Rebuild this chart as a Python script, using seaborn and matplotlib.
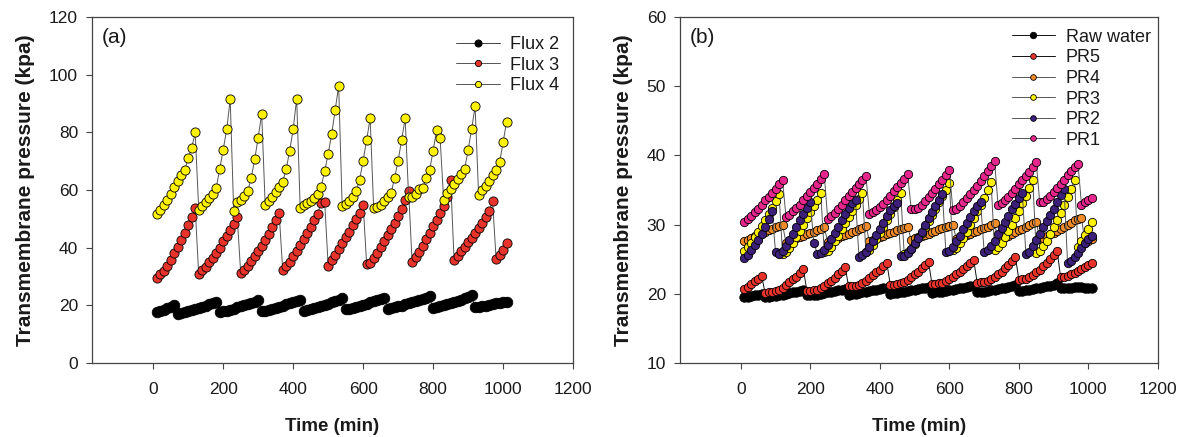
import matplotlib
matplotlib.use('Agg')
import matplotlib.pyplot as plt
import seaborn as sns
import pandas as pd

sns.set_style('ticks')
plt.rcParams['font.family'] = ['Liberation Sans', 'DejaVu Sans']

# sampling times (min), shared by every series
time_min = [10, 20, 30, 40, 50, 60, 70, 80, 90, 100, 110, 120, 130, 140, 150, 160, 170, 180, 190, 200,
            210, 220, 230, 240, 250, 260, 270, 280, 290, 300, 310, 320, 330, 340, 350, 360, 370, 380, 390, 400,
            410, 420, 430, 440, 450, 460, 470, 480, 490, 500, 510, 520, 530, 540, 550, 560, 570, 580, 590, 600,
            610, 620, 630, 640, 650, 660, 670, 680, 690, 700, 710, 720, 730, 740, 750, 760, 770, 780, 790, 800,
            810, 820, 830, 840, 850, 860, 870, 880, 890, 900, 910, 920, 930, 940, 950, 960, 970, 980, 990, 1000,
            1010]

# panel (a): TMP at three fluxes (kpa)
flux2 = [17.7, 18.0, 18.5, 19.0, 19.5, 20.0,
         17.1, 17.3, 17.6, 17.9, 18.3, 18.7, 19.1, 19.5, 19.9, 20.3, 20.7, 21.1,
         17.7, 17.9, 18.2, 18.5, 18.9, 19.3, 19.7, 20.1, 20.5, 20.9, 21.3, 21.7,
         18.0, 18.2, 18.5, 18.8, 19.1, 19.5, 19.9, 20.3, 20.7, 21.1, 21.5, 21.9,
         18.2, 18.4, 18.7, 19.0, 19.4, 19.8, 20.2, 20.6, 21.0, 21.4, 21.9, 22.4,
         18.6, 18.8, 19.1, 19.4, 19.8, 20.2, 20.6, 21.0, 21.4, 21.8, 22.3, 22.7,
         18.8, 19.0, 19.3, 19.6, 19.9, 20.3, 20.7, 21.1, 21.5, 21.9, 22.3, 22.7, 23.1,
         19.2, 19.4, 19.7, 20.0, 20.4, 20.8, 21.2, 21.6, 22.0, 22.5, 23.0, 23.5,
         19.4, 19.5, 19.7, 19.9, 20.2, 20.4, 20.7, 20.9, 21.1, 21.3]
flux3 = [29.5, 30.7, 31.8, 33.6, 35.8, 38.1, 40.2, 42.7, 45.1, 47.7, 50.5, 53.8,
         30.7, 32.1, 33.2, 35.0, 36.5, 38.1, 39.9, 42.2, 44.2, 46.2, 48.2, 50.8,
         31.2, 32.3, 33.7, 35.3, 37.0, 38.8, 40.7, 42.6, 44.8, 47.0, 49.5, 51.9,
         32.3, 33.6, 35.2, 37.0, 38.9, 40.9, 42.9, 45.0, 47.2, 49.5, 51.8, 55.5, 56.0,
         33.8, 35.6, 37.6, 39.6, 41.6, 43.6, 45.6, 47.7, 49.8, 52.0, 54.9,
         34.4, 34.6, 36.5, 38.3, 40.2, 42.2, 44.3, 46.4, 48.6, 50.9, 53.3, 56.5, 59.5,
         35.0, 36.6, 38.6, 40.7, 42.9, 45.1, 47.4, 49.7, 52.0, 54.3, 57.5, 63.5,
         35.8, 37.2, 38.7, 40.2, 41.8, 43.4, 45.1, 46.8, 48.6, 50.5, 52.6, 56.1,
         36.1, 37.3, 39.2, 41.5]
flux4 = [51.7, 53.1, 54.9, 56.7, 58.6, 60.9, 63.2, 65.2, 66.9, 71.1, 74.5, 80.0,
         53.2, 54.3, 55.7, 57.2, 58.6, 60.7, 67.2, 74.0, 81.0, 91.4,
         52.8, 55.7, 56.7, 57.8, 59.5, 64.2, 70.6, 78.2, 86.5,
         54.9, 56.3, 57.7, 59.2, 60.9, 62.9, 67.2, 73.6, 81.1, 91.7,
         53.8, 54.9, 55.4, 56.3, 57.2, 58.6, 61.2, 66.5, 72.5, 79.4, 87.7, 96.1,
         54.6, 55.2, 56.3, 57.7, 59.5, 63.6, 70.2, 77.3, 84.9,
         53.8, 54.0, 54.9, 56.3, 57.7, 59.0, 64.2, 70.2, 77.3, 84.9,
         57.7, 57.5, 58.6, 60.3, 60.6, 64.2, 66.9, 73.6, 80.8, 78.0,
         56.7, 58.8, 60.3, 62.1, 63.8, 65.5, 67.3, 73.8, 81.1, 89.0,
         58.4, 60.0, 61.5, 63.2, 65.3, 66.9, 69.6, 76.5, 83.7]

# panel (b): TMP for raw water and pretreatments (kpa)
raw_water = [19.5, 19.6, 19.7, 19.8, 19.9, 20.0,
             19.6, 19.6, 19.7, 19.7, 19.8, 19.9, 20.0, 20.1, 20.2, 20.3, 20.4, 20.5,
             19.8, 19.8, 19.9, 19.9, 20.0, 20.1, 20.2, 20.3, 20.4, 20.5, 20.6, 20.7,
             19.9, 20.0, 20.0, 20.1, 20.2, 20.3, 20.4, 20.5, 20.6, 20.7, 20.8, 20.9,
             20.0, 20.1, 20.1, 20.2, 20.3, 20.4, 20.5, 20.6, 20.7, 20.8, 20.9, 21.0,
             20.1, 20.2, 20.2, 20.3, 20.4, 20.5, 20.6, 20.7, 20.8, 20.9, 21.0, 21.1, 21.2,
             20.2, 20.3, 20.3, 20.4, 20.5, 20.6, 20.7, 20.8, 20.9, 21.0, 21.1, 21.3,
             20.4, 20.4, 20.5, 20.6, 20.7, 20.8, 20.9, 21.0, 21.1, 21.2, 21.3, 21.5,
             20.8, 20.8, 20.9, 20.9, 21.0, 21.0, 21.0, 20.9, 20.9, 20.9]
pr5 = [20.7, 21.0, 21.4, 21.8, 22.2, 22.6,
       20.1, 20.2, 20.3, 20.4, 20.6, 20.9, 21.3, 21.7, 22.1, 22.5, 23.0, 23.6,
       20.4, 20.4, 20.5, 20.6, 20.8, 21.2, 21.5, 21.9, 22.3, 22.8, 23.3, 23.9,
       21.1, 21.1, 21.2, 21.3, 21.6, 21.9, 22.3, 22.7, 23.1, 23.5, 24.0, 24.5,
       21.3, 21.3, 21.4, 21.5, 21.7, 22.0, 22.4, 22.8, 23.2, 23.7, 24.1, 24.6,
       21.4, 21.4, 21.5, 21.6, 21.8, 22.1, 22.4, 22.8, 23.2, 23.6, 24.0, 24.4, 24.9,
       21.6, 21.7, 21.7, 21.9, 22.1, 22.4, 22.8, 23.2, 23.7, 24.2, 24.7, 25.3,
       22.0, 22.1, 22.2, 22.4, 22.7, 23.1, 23.5, 24.0, 24.5, 25.0, 25.6, 26.2,
       22.4, 22.5, 22.6, 22.8, 23.0, 23.3, 23.6, 23.9, 24.2, 24.5]
pr4 = [27.6, 27.8, 28.0, 28.3, 28.5, 28.8, 29.0, 29.2, 29.4, 29.6, 29.8, 30.0,
       27.4, 27.6, 27.8, 28.0, 28.2, 28.4, 28.6, 28.8, 29.0, 29.2, 29.4, 29.6,
       27.5, 27.7, 27.9, 28.1, 28.3, 28.5, 28.7, 28.9, 29.1, 29.3, 29.5, 29.8,
       27.6, 27.8, 28.0, 28.2, 28.4, 28.6, 28.8, 29.0, 29.2, 29.4, 29.5, 29.7,
       27.8, 28.0, 28.2, 28.4, 28.5, 28.7, 28.9, 29.1, 29.3, 29.5, 29.6, 29.8, 30.0,
       27.9, 28.1, 28.3, 28.5, 28.7, 28.9, 29.1, 29.3, 29.5, 29.7, 30.0, 30.2,
       27.8, 28.0, 28.2, 28.4, 28.7, 28.9, 29.2, 29.4, 29.7, 29.9, 30.2, 30.4,
       27.9, 28.1, 28.3, 28.6, 28.8, 29.1, 29.4, 29.7, 30.0, 30.3, 30.6, 30.8, 31.0,
       27.4, 27.6, 27.9]
pr3 = [26.2, 26.7, 27.4, 28.2, 29.0, 29.8, 30.6, 31.5, 32.4, 33.4, 34.4,
       25.8, 26.0, 26.6, 27.4, 28.2, 29.1, 30.0, 30.9, 31.8, 32.7, 33.6, 34.5,
       26.0, 26.2, 26.8, 27.6, 28.4, 29.3, 30.2, 31.1, 32.0, 32.9, 33.7, 34.5,
       26.0, 26.4, 27.1, 27.9, 28.8, 29.7, 30.6, 31.5, 32.5, 33.5, 34.5,
       25.8, 26.0, 26.5, 27.2, 28.0, 28.8, 29.6, 30.5, 31.4, 32.3, 33.2, 34.1, 35.0, 36.0,
       26.3, 26.6, 27.3, 28.1, 29.0, 29.9, 30.9, 31.9, 32.9, 33.9, 35.0, 36.2,
       26.4, 26.7, 27.4, 28.2, 29.1, 30.0, 31.0, 32.0, 33.1, 34.2, 35.3, 36.4,
       25.9, 26.2, 26.9, 27.7, 28.6, 29.6, 30.6, 31.7, 32.8, 34.0, 35.2, 36.4,
       26.8, 27.6, 28.5, 29.4, 30.4]
pr2 = [25.2, 25.6, 26.3, 27.0, 27.8, 28.7, 29.7, 30.8, 31.9,
       26.0, 25.8, 26.2, 26.9, 27.8, 28.7, 29.6, 30.6, 31.5, 32.4, 33.3,
       27.4,
       25.8, 25.9, 26.4, 27.1, 27.9, 28.8, 29.7, 30.6, 31.5, 32.4, 33.1, 33.6,
       25.3, 25.6, 26.1, 26.8, 27.6, 28.5, 29.4, 30.3, 31.2, 32.1, 32.7, 33.1,
       25.4, 25.5, 25.9, 26.5, 27.3, 28.1, 29.0, 29.9, 30.9, 31.8, 32.7, 33.6, 34.4,
       26.0, 26.2, 26.8, 27.6, 28.4, 29.3, 30.2, 31.1, 32.0, 32.7, 33.2,
       26.1, 26.3, 26.9, 27.7, 28.6, 29.5, 30.4, 31.3, 32.2, 33.0, 33.8, 34.5,
       25.8, 26.1, 26.9, 27.8, 28.7, 29.6, 30.5, 31.4, 32.3, 33.3, 34.3, 35.2,
       24.4, 24.8, 25.3, 25.9, 26.6, 27.3, 27.9, 28.4]
pr1 = [30.4, 30.8, 31.3, 31.8, 32.3, 32.9, 33.5, 34.0, 34.6, 35.2, 35.9, 36.5,
       31.1, 31.4, 31.9, 32.4, 32.9, 33.5, 34.1, 34.7, 35.3, 35.9, 36.6, 37.3,
       30.8, 31.2, 31.7, 32.3, 32.9, 33.5, 34.1, 34.7, 35.3, 35.9, 36.5, 37.0,
       31.6, 31.8, 32.1, 32.5, 33.0, 33.6, 34.2, 34.8, 35.4, 36.0, 36.6, 37.3,
       32.3, 32.2, 32.4, 32.9, 33.4, 34.0, 34.6, 35.2, 35.9, 36.5, 37.2, 37.9,
       32.1, 32.3, 32.7, 33.2, 33.8, 34.4, 35.0, 35.6, 36.3, 37.0, 37.7, 38.4, 39.2,
       32.9, 33.1, 33.5, 34.0, 34.6, 35.2, 35.8, 36.4, 37.0, 37.6, 38.3, 39.0,
       33.2, 33.3, 33.7, 34.2, 34.7, 35.3, 35.9, 36.5, 37.1, 37.7, 38.3, 38.8,
       32.9, 33.2, 33.5, 33.9]

# (label, values, marker face, line colour, marker size)
series_a = [('Flux 2', flux2, 'black', '#444444', 7.6),
            ('Flux 3', flux3, '#e8332a', '#555555', 6.6),
            ('Flux 4', flux4, '#fff200', '#555555', 6.6)]
series_b = [('Raw water', raw_water, 'black', '#111111', 6.8),
            ('PR5', pr5, '#e8332a', '#111111', 6.0),
            ('PR4', pr4, '#f28c28', '#555555', 6.0),
            ('PR3', pr3, '#fff200', '#555555', 6.0),
            ('PR2', pr2, '#3b1f78', '#555555', 6.0),
            ('PR1', pr1, '#e6268c', '#555555', 6.0)]


def draw_panel(ax, series):
	'''Plot each series as a thin line with black-edged circles.'''
	for name, vals, face, line, msize in series:
		df = pd.DataFrame({'t': time_min, 'p': vals})
		sns.lineplot(data=df, x='t', y='p', ax=ax, label=name, sort=False,
					 color=line, linewidth=0.7, marker='o', markersize=msize,
					 markerfacecolor=face, markeredgecolor='black',
					 markeredgewidth=0.6)


def style_axes(ax, ylim, yticks, tag, leg_anchor):
	ax.set_xlim(-175, 1200)
	ax.set_xticks([0, 200, 400, 600, 800, 1000, 1200])
	ax.set_ylim(*ylim)
	ax.set_yticks(yticks)
	ax.tick_params(axis='both', direction='out', length=4, width=0.8,
				   color='#444444', labelsize=12.5, labelcolor='#1a1a1a')
	ax.tick_params(axis='x', pad=10)
	ax.tick_params(axis='y', pad=6)
	for sp in ax.spines.values():
		sp.set_color('#444444')
		sp.set_linewidth(0.9)
	ax.set_xlabel('Time (min)', fontsize=13.5, fontweight='bold', labelpad=15,
				  color='#1a1a1a')
	ax.set_ylabel('Transmembrane pressure (kpa)', fontsize=15, fontweight='bold',
				  labelpad=10, color='#1a1a1a')
	ax.text(0.02, 0.968, tag, transform=ax.transAxes, ha='left', va='top',
			fontsize=15, color='#1a1a1a')
	leg = ax.legend(loc='upper right', bbox_to_anchor=leg_anchor, frameon=False,
					fontsize=13, markerscale=0.68, handlelength=2.4,
					handletextpad=0.6, labelspacing=0.2, borderpad=0,
					borderaxespad=0)
	for txt in leg.get_texts():
		txt.set_color('#1a1a1a')


fig = plt.figure(figsize=(11.84, 4.37), dpi=100)
ax_a = fig.add_axes([0.0777, 0.1693, 0.4063, 0.7918])
ax_b = fig.add_axes([0.5743, 0.1693, 0.4037, 0.7918])

draw_panel(ax_a, series_a)
draw_panel(ax_b, series_b)

style_axes(ax_a, (0, 120), [0, 20, 40, 60, 80, 100, 120], '(a)', (0.972, 0.945))
style_axes(ax_b, (10, 60), [10, 20, 30, 40, 50, 60], '(b)', (0.985, 0.966))

fig.savefig('out.png', dpi=100, facecolor='white')
